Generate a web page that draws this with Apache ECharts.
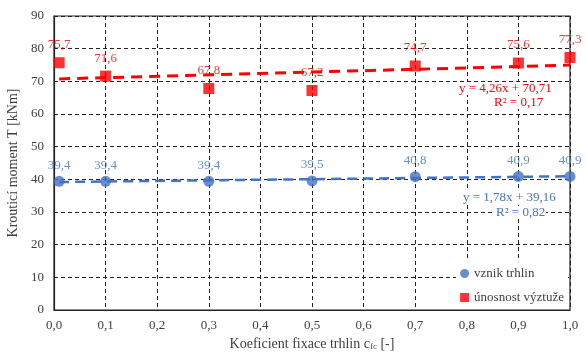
<!DOCTYPE html>
<html><head><meta charset="utf-8">
<script src="https://cdn.jsdelivr.net/npm/echarts@6/dist/echarts.min.js"></script>
<style>html,body{margin:0;padding:0;background:#fff}#c{width:587px;height:354px}</style>
</head><body><div id="c"></div>
<script>
const xValues = [0.01, 0.1, 0.3, 0.5, 0.7, 0.9, 1.0];
const vznikTrhlin = [39.4, 39.4, 39.4, 39.5, 40.8, 40.9, 40.9];
const unosnostVyztuze = [75.7, 71.6, 67.8, 67.2, 74.7, 75.6, 77.3];
const trendX = [0.01, 1.0];
const trendBlue = [39.18, 40.94];
const trendRed = [70.75, 74.97];
const eqBlue = ['y = 1,78x + 39,16', 'R² = 0,82'];
const eqRed = ['y = 4,26x + 70,71', 'R² = 0,17'];

const FONT = 'Liberation Serif';
const fmt = v => v.toFixed(1).replace('.', ',');
const pairs = (xs, ys) => xs.map((x, i) => [x, ys[i]]);
const BLUE = '#4472C4', RED = '#FF0000';

const eqTitle = (text, color, left, top) => ({
  text, left, top, padding: [0, 1], backgroundColor: '#fff', z: 10,
  textStyle: { fontSize: 13, fontWeight: 'normal', color, fontFamily: FONT }
});

const chart = echarts.init(document.getElementById('c'));
chart.setOption({
  animation: false,
  textStyle: { fontFamily: FONT },
  title: [
    eqTitle(eqRed[0], RED, 458, 82),
    eqTitle(eqRed[1], RED, 493, 96),
    eqTitle(eqBlue[0], BLUE, 462, 191),
    eqTitle(eqBlue[1], BLUE, 495, 206)
  ],
  grid: { left: 54, right: 17, top: 16, bottom: 44, show: true, borderColor: '#222', borderWidth: 1.2, containLabel: false, outerBoundsMode: 'none' },
  xAxis: {
    type: 'value', min: 0, max: 1, interval: 0.1,
    axisLine: { lineStyle: { color: '#222', width: 1.2 } },
    axisTick: { show: false },
    axisLabel: { color: '#404040', fontSize: 13, fontFamily: FONT, margin: 9, formatter: v => fmt(v) },
    splitLine: { show: true, lineStyle: { color: '#222', type: [4, 3], width: 1 } },
    name: '{a|Koeficient fixace trhlin c}{s|fc}{a| [-]}',
    nameLocation: 'middle', nameGap: 26,
    nameTextStyle: { rich: { a: { fontSize: 14, color: '#404040', fontFamily: FONT }, s: { fontSize: 9, color: '#404040', fontFamily: FONT, verticalAlign: 'bottom', padding: [6, 0, 0, 0] } } }
  },
  yAxis: {
    type: 'value', min: 0, max: 90, interval: 10,
    axisLine: { show: true, lineStyle: { color: '#222', width: 1.2 } },
    axisTick: { show: false },
    axisLabel: { color: '#404040', fontSize: 13, fontFamily: FONT, margin: 10 },
    splitLine: { show: true, lineStyle: { color: '#222', type: [4, 3], width: 1 } },
    name: 'Krouticí moment T [kNm]', nameLocation: 'middle', nameGap: 31,
    nameTextStyle: { fontSize: 14, color: '#404040', fontFamily: FONT }
  },
  legend: {
    data: [{ name: 'vznik trhlin', icon: 'circle' }, { name: 'únosnost výztuže', icon: 'rect' }],
    orient: 'vertical', right: 19, bottom: 46, itemWidth: 9, itemHeight: 9, itemGap: 11,
    backgroundColor: '#fff', padding: [6, 4, 4, 4],
    textStyle: { fontSize: 13, color: '#404040', fontFamily: FONT }
  },
  series: [
    {
      name: 'trend vznik', type: 'line', data: pairs(trendX, trendBlue), showSymbol: false, silent: true,
      lineStyle: { color: BLUE, width: 2.5, type: [10, 6] }, z: 2
    },
    {
      name: 'trend únosnost', type: 'line', data: pairs(trendX, trendRed), showSymbol: false, silent: true,
      lineStyle: { color: RED, width: 3, type: [11, 7] }, z: 2
    },
    {
      name: 'vznik trhlin', type: 'scatter', data: pairs(xValues, vznikTrhlin),
      symbol: 'circle', symbolSize: 11, itemStyle: { color: BLUE }, z: 3,
      label: { show: true, position: 'top', distance: 4, color: BLUE, fontSize: 13, fontFamily: FONT, formatter: p => fmt(p.value[1]) }
    },
    {
      name: 'únosnost výztuže', type: 'scatter', data: pairs(xValues, unosnostVyztuze),
      symbol: 'rect', symbolSize: 11, itemStyle: { color: RED }, z: 3,
      label: { show: true, position: 'top', distance: 6, color: RED, fontSize: 13, fontFamily: FONT, formatter: p => fmt(p.value[1]) }
    }
  ]
});
</script></body></html>
